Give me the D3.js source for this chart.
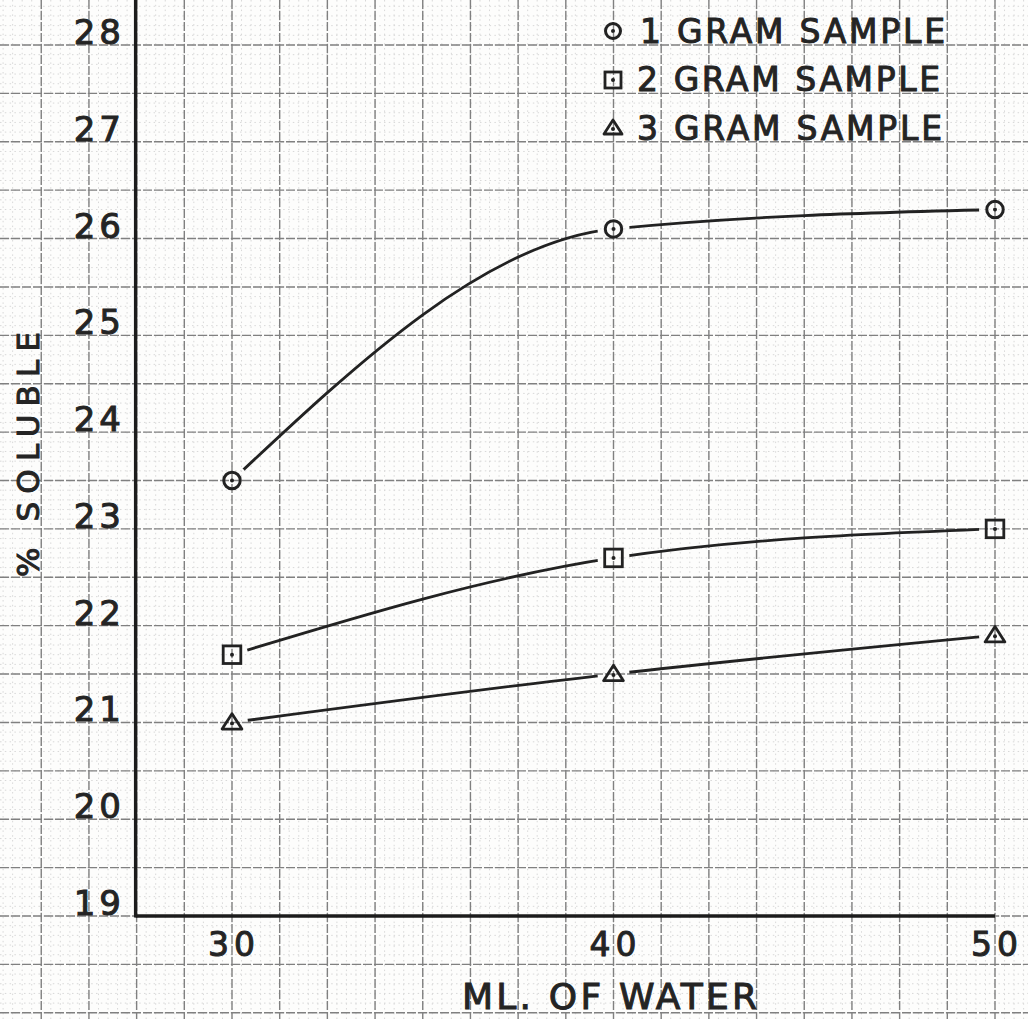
<!DOCTYPE html>
<html>
<head>
<meta charset="utf-8">
<script src="https://cdn.jsdelivr.net/npm/d3@7"></script>
<style>
  html, body { margin: 0; padding: 0; background: #fdfdfc; }
  svg { display: block; }
  text { font-family: "DejaVu Sans", sans-serif; fill: #242424; stroke: #242424; stroke-width: 1px; }
</style>
</head>
<body>
<div id="chart"></div>
<script>
const width = 1028;
const height = 1019;

// data
const mlWater = [30, 40, 50];
const oneGram = [23.5, 26.1, 26.3];
const twoGram = [21.7, 22.7, 23.0];
const threeGram = [21.0, 21.5, 21.9];
const seriesNames = ["1 GRAM SAMPLE", "2 GRAM SAMPLE", "3 GRAM SAMPLE"];
const markerTypes = ["circle", "square", "triangle"];
const xTicks = [30, 40, 50];
const yTicks = [19, 20, 21, 22, 23, 24, 25, 26, 27, 28];

const series = [oneGram, twoGram, threeGram].map((vals, i) => ({
  name: seriesNames[i],
  marker: markerTypes[i],
  points: mlWater.map((m, j) => ({ x: m, y: vals[j] }))
}));

const svg = d3
  .select("#chart")
  .append("svg")
  .attr("width", width)
  .attr("height", height);

const x = d3.scaleLinear().domain([30, 50]).range([232, 995]);
const y = d3.scaleLinear().domain([19, 28]).range([916, 45]);

// graph paper: squares are 1.25 ml by 0.5 %, five fine divisions each
const xMinor = d3.range(24, 54.01, 0.25);
const yMinor = d3.range(18, 28.81, 0.1);
const xMajor = d3.range(25, 52.6, 1.25);
const yMajor = d3.range(18, 28.6, 0.5);

const grid = svg.append("g");
grid
  .selectAll("line.vminor")
  .data(xMinor)
  .join("line")
  .attr("class", "vminor")
  .attr("x1", (d) => x(d))
  .attr("x2", (d) => x(d))
  .attr("y1", 0)
  .attr("y2", height)
  .attr("stroke", "#d8d8d8")
  .attr("stroke-width", 1)
  .attr("stroke-dasharray", "1.5,3.3");
grid
  .selectAll("line.hminor")
  .data(yMinor)
  .join("line")
  .attr("class", "hminor")
  .attr("x1", 0)
  .attr("x2", width)
  .attr("y1", (d) => y(d))
  .attr("y2", (d) => y(d))
  .attr("stroke", "#d8d8d8")
  .attr("stroke-width", 1)
  .attr("stroke-dasharray", "1.5,3.3");
grid
  .selectAll("line.vmajor")
  .data(xMajor)
  .join("line")
  .attr("class", "vmajor")
  .attr("x1", (d) => x(d))
  .attr("x2", (d) => x(d))
  .attr("y1", 0)
  .attr("y2", height)
  .attr("stroke", "#808080")
  .attr("stroke-width", 1.4)
  .attr("stroke-dasharray", "9,2");
grid
  .selectAll("line.hmajor")
  .data(yMajor)
  .join("line")
  .attr("class", "hmajor")
  .attr("x1", 0)
  .attr("x2", width)
  .attr("y1", (d) => y(d))
  .attr("y2", (d) => y(d))
  .attr("stroke", "#808080")
  .attr("stroke-width", 1.4)
  .attr("stroke-dasharray", "9,2");

// axes
const axisX0 = x(27.5) - 1;
svg
  .append("line")
  .attr("x1", axisX0)
  .attr("x2", axisX0)
  .attr("y1", 0)
  .attr("y2", y(19) + 1.5)
  .attr("stroke", "#1c1c1c")
  .attr("stroke-width", 3.4);
svg
  .append("line")
  .attr("x1", axisX0)
  .attr("x2", x(50))
  .attr("y1", y(19))
  .attr("y2", y(19))
  .attr("stroke", "#1c1c1c")
  .attr("stroke-width", 3.4);

svg
  .selectAll("text.ytick")
  .data(yTicks)
  .join("text")
  .attr("class", "ytick")
  .attr("x", 125)
  .attr("y", (d) => y(d) - 1)
  .attr("text-anchor", "end")
  .attr("font-size", 34)
  .attr("letter-spacing", 4)
  .text((d) => d);

svg
  .selectAll("text.xtick")
  .data(xTicks)
  .join("text")
  .attr("class", "xtick")
  .attr("x", (d) => x(d) + 2)
  .attr("y", 956)
  .attr("text-anchor", "middle")
  .attr("font-size", 33)
  .attr("letter-spacing", 5)
  .text((d) => d);

svg
  .append("text")
  .attr("x", 462)
  .attr("y", 1009)
  .attr("font-size", 36)
  .attr("textLength", 295)
  .attr("lengthAdjust", "spacing")
  .text("ML. OF WATER");

svg
  .append("text")
  .attr("transform", "translate(39,577) rotate(-90)")
  .attr("font-size", 31)
  .attr("textLength", 245)
  .attr("lengthAdjust", "spacing")
  .text("% SOLUBLE");

// curves, broken where they meet the markers
const defs = svg.append("defs");
const mask = defs.append("mask").attr("id", "gaps");
mask.append("rect").attr("width", width).attr("height", height).attr("fill", "white");
mask
  .selectAll("circle")
  .data(series.flatMap((s) => s.points))
  .join("circle")
  .attr("cx", (d) => x(d.x))
  .attr("cy", (d) => y(d.y))
  .attr("r", 16)
  .attr("fill", "black");

const line = d3
  .line()
  .x((d) => x(d.x))
  .y((d) => y(d.y))
  .curve(d3.curveMonotoneX);

svg
  .append("g")
  .attr("mask", "url(#gaps)")
  .selectAll("path")
  .data(series)
  .join("path")
  .attr("d", (d) => line(d.points))
  .attr("fill", "none")
  .attr("stroke", "#222")
  .attr("stroke-width", 2.8);

function drawMarker(g, type, cx, cy, s) {
  const ink = "#222";
  if (type === "circle") {
    g.append("circle").attr("cx", cx).attr("cy", cy).attr("r", 7.5 * s)
      .attr("fill", "none").attr("stroke", ink).attr("stroke-width", 3);
  } else if (type === "square") {
    g.append("rect").attr("x", cx - 8 * s).attr("y", cy - 8 * s).attr("width", 16 * s).attr("height", 16 * s)
      .attr("fill", "none").attr("stroke", ink).attr("stroke-width", 2.8);
  } else {
    g.append("path")
      .attr("d", `M${cx},${cy - 8 * s}L${cx + 9 * s},${cy + 6 * s}L${cx - 9 * s},${cy + 6 * s}Z`)
      .attr("fill", "none").attr("stroke", ink).attr("stroke-width", 2.8)
      .attr("stroke-linejoin", "round");
  }
  g.append("circle").attr("cx", cx).attr("cy", cy + (type === "triangle" ? 1 : 0)).attr("r", 2).attr("fill", ink);
}

const markers = svg.append("g");
series.forEach((s) => {
  s.points.forEach((p) => drawMarker(markers, s.marker, x(p.x), y(p.y), 1.1));
});

// legend
const legendRows = [31, 80, 128];
const legendText = [43, 91, 140];
const legendStart = [640, 637, 637];
const legendLen = [305, 303, 305];
const legend = svg.append("g");
series.forEach((s, i) => {
  drawMarker(legend, s.marker, 613, legendRows[i], 1);
  legend
    .append("text")
    .attr("x", legendStart[i])
    .attr("y", legendText[i])
    .attr("font-size", 33)
    .attr("textLength", legendLen[i])
    .attr("lengthAdjust", "spacing")
    .text(s.name);
});
</script>
</body>
</html>
